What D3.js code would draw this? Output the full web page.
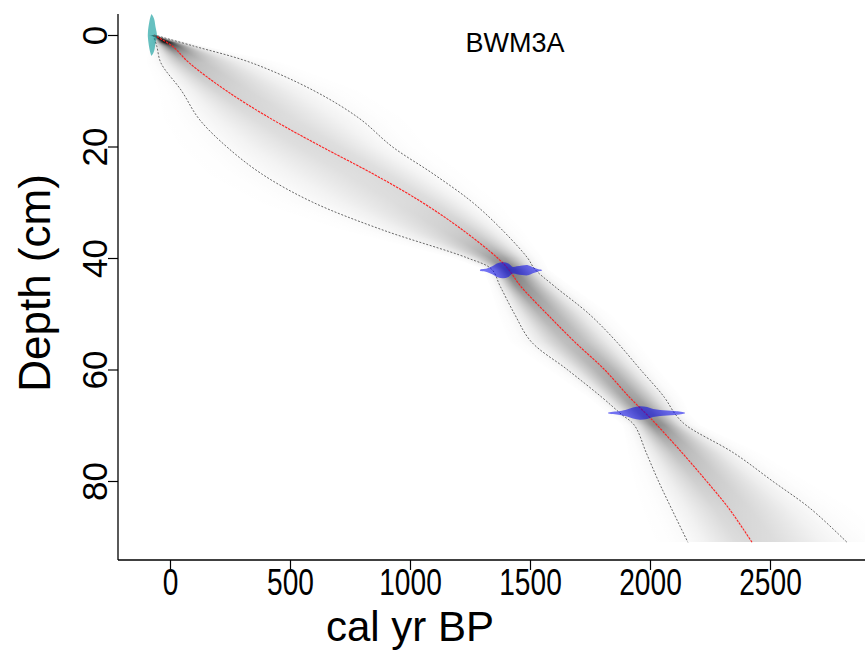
<!DOCTYPE html>
<html>
<head>
<meta charset="utf-8">
<script src="https://cdn.jsdelivr.net/npm/d3@7/dist/d3.min.js"></script>
<style>
  html, body { margin: 0; padding: 0; background: #fff; }
  svg { display: block; }
  text { font-family: "Liberation Sans", Arial, sans-serif; fill: #000; }
</style>
</head>
<body>
<svg id="chart" width="865" height="655"></svg>
<script>
// ---------------- data ----------------
const coreName = "BWM3A";
const xTicks = [0, 500, 1000, 1500, 2000, 2500];
const yTicks = [0, 20, 40, 60, 80];
const xLabel = "cal yr BP";
const yLabel = "Depth (cm)";

// age-depth model (cal yr BP) at depths (cm)
const modelDepth = [0, 2, 5, 10, 15, 20, 25, 30, 35, 40, 42, 45, 50, 55, 60, 65, 68, 70, 75, 80, 85, 91];
const ageMin  = [-70, -55, -38, 48, 120, 235, 385, 595, 888, 1240, 1340, 1375, 1435, 1505, 1655, 1800, 1880, 1935, 1985, 2035, 2090, 2158];
const ageMean = [-68, 10, 80, 235, 420, 630, 850, 1050, 1220, 1365, 1410, 1460, 1570, 1685, 1810, 1915, 1985, 2030, 2135, 2235, 2330, 2425];
const ageMax  = [-66, 100, 340, 600, 790, 925, 1100, 1260, 1385, 1490, 1520, 1600, 1745, 1860, 1960, 2060, 2105, 2150, 2350, 2510, 2670, 2821];

// dated levels (calibrated distributions: age, half-height in cm)
const date0Depth = 0;
const date0Age  = [-92, -86, -81, -77, -73, -69, -65, -60, -55];
const date0Half = [0.5, 2.4, 3.3, 3.7, 3.5, 3.2, 2.7, 1.4, 0.3];

const date1Depth = 42.2;
const date1Age  = [1292, 1320, 1345, 1365, 1388, 1410, 1428, 1445, 1467, 1492, 1515, 1535, 1550];
const date1Half = [0.08, 0.30, 0.75, 1.25, 1.43, 1.20, 0.60, 0.70, 0.85, 0.90, 0.50, 0.20, 0.06];

const date2Depth = 67.8;
const date2Age  = [1825, 1875, 1904, 1929, 1958, 1988, 2013, 2042, 2071, 2104, 2146];
const date2Half = [0.05, 0.36, 0.63, 0.99, 1.22, 1.08, 0.72, 0.54, 0.45, 0.36, 0.05];

// ---------------- layout ----------------
const svg = d3.select("#chart");
const plot = { left: 118, right: 865, top: 14, bottom: 560 };

const x = d3.scaleLinear().domain([0, 2500]).range([170, 770]);
const y = d3.scaleLinear().domain([0, 80]).range([35, 481]);

const defs = svg.append("defs");

// ---------------- shading (age-depth density) ----------------
const fMin = d3.scaleLinear().domain(modelDepth).range(ageMin);
const fMean = d3.scaleLinear().domain(modelDepth).range(ageMean);
const fMax = d3.scaleLinear().domain(modelDepth).range(ageMax);

const dBottom = modelDepth[modelDepth.length - 1];
const pyTop = Math.round(y(0)), pyBot = Math.round(y(dBottom));
const rows = d3.range(pyTop, pyBot);
const shade = svg.append("g").attr("shape-rendering", "crispEdges");
const ks = [0, 0.5, 1, 1.5, 2, 2.5, 3];
rows.forEach((py, i) => {
  const dm = Math.max(0, Math.min(dBottom, y.invert(py + 0.5)));
  const mn = fMin(dm), me = fMean(dm), mx = fMax(dm);
  const sl = Math.max((me - mn) / 2, 8), sr = Math.max((mx - me) / 2, 8);
  const lo = me - 3 * sl, hi = me + 3 * sr;
  const width = Math.max(mx - mn, 1);
  const peak = Math.min(0.95, 100 / width);
  const id = "g" + i;
  const g = defs.append("linearGradient").attr("id", id)
    .attr("gradientUnits", "userSpaceOnUse")
    .attr("x1", x(lo)).attr("x2", x(hi)).attr("y1", 0).attr("y2", 0);
  const stops = [];
  ks.slice().reverse().forEach(k => stops.push({a: me - k * sl, o: peak * Math.exp(-k * k / 2)}));
  ks.slice(1).forEach(k => stops.push({a: me + k * sr, o: peak * Math.exp(-k * k / 2)}));
  stops.forEach(s => {
    g.append("stop").attr("offset", (s.a - lo) / (hi - lo))
      .attr("stop-color", "#000").attr("stop-opacity", s.o);
  });
  shade.append("rect")
    .attr("x", x(lo)).attr("width", x(hi) - x(lo))
    .attr("y", py).attr("height", 1)
    .attr("fill", `url(#${id})`);
});

// ---------------- model lines ----------------
const lineOf = arr => d3.line().curve(d3.curveCatmullRom.alpha(0.5))
  .x((a) => x(a)).y((a, i) => y(modelDepth[i]))(arr);
svg.append("path").attr("d", lineOf(ageMin)).attr("fill", "none")
  .attr("stroke", "#666").attr("stroke-width", 1).attr("stroke-dasharray", "2,1.6");
svg.append("path").attr("d", lineOf(ageMax)).attr("fill", "none")
  .attr("stroke", "#666").attr("stroke-width", 1).attr("stroke-dasharray", "2,1.6");
svg.append("path").attr("d", lineOf(ageMean)).attr("fill", "none")
  .attr("stroke", "#ff2020").attr("stroke-width", 1.1).attr("stroke-dasharray", "2.5,1");

// ---------------- dates ----------------
function datePoly(ages, halves, depth) {
  const top = ages.map((a, i) => [x(a), y(depth - halves[i])]);
  const bot = ages.map((a, i) => [x(a), y(depth + halves[i])]).reverse();
  return d3.line().curve(d3.curveCatmullRomClosed)(top.concat(bot));
}
svg.append("path").attr("d", datePoly(date0Age, date0Half, date0Depth))
  .attr("fill", "rgba(0,150,150,0.6)");
svg.append("path").attr("d", datePoly(date1Age, date1Half, date1Depth))
  .attr("fill", "rgba(0,0,235,0.55)");
svg.append("path").attr("d", datePoly(date2Age, date2Half, date2Depth))
  .attr("fill", "rgba(0,0,235,0.55)");

// ---------------- axes ----------------
const xAxis = d3.axisBottom(x).tickValues(xTicks).tickSize(10).tickFormat(d3.format("d"));
const gx = svg.append("g").attr("transform", `translate(0,${plot.bottom})`).call(xAxis);
gx.select(".domain").remove();
gx.append("line").attr("x1", plot.left).attr("x2", plot.right).attr("y1", 0).attr("y2", 0)
  .attr("stroke", "#000").attr("stroke-width", 1.3);
gx.selectAll(".tick line").attr("stroke-width", 1.2);
gx.selectAll(".tick text")
  .attr("font-size", 37).attr("font-family", "Liberation Sans, Arial, sans-serif")
  .attr("y", 35).attr("dy", null)
  .attr("transform", "scale(0.76,1)");

const yAxis = d3.axisLeft(y).tickValues(yTicks).tickSize(10).tickFormat(d3.format("d"));
const gy = svg.append("g").attr("transform", `translate(${plot.left},0)`).call(yAxis);
gy.select(".domain").remove();
gy.append("line").attr("x1", 0).attr("x2", 0).attr("y1", plot.top).attr("y2", plot.bottom)
  .attr("stroke", "#000").attr("stroke-width", 1.3);
gy.selectAll(".tick line").attr("stroke-width", 1.2);
gy.selectAll(".tick text")
  .attr("font-size", 35).attr("font-family", "Liberation Sans, Arial, sans-serif")
  .attr("x", null).attr("dy", null)
  .attr("text-anchor", "middle")
  .attr("transform", "translate(-11,0) rotate(-90)");

// ---------------- labels ----------------
svg.append("text").attr("x", 410).attr("y", 641).attr("text-anchor", "middle")
  .attr("font-size", 42).text(xLabel);
svg.append("text").attr("transform", "translate(50,283) rotate(-90)").attr("text-anchor", "middle")
  .attr("font-size", 44).text(yLabel);
svg.append("text").attr("x", 515).attr("y", 52).attr("text-anchor", "middle")
  .attr("font-size", 27).text(coreName);
</script>
</body>
</html>
